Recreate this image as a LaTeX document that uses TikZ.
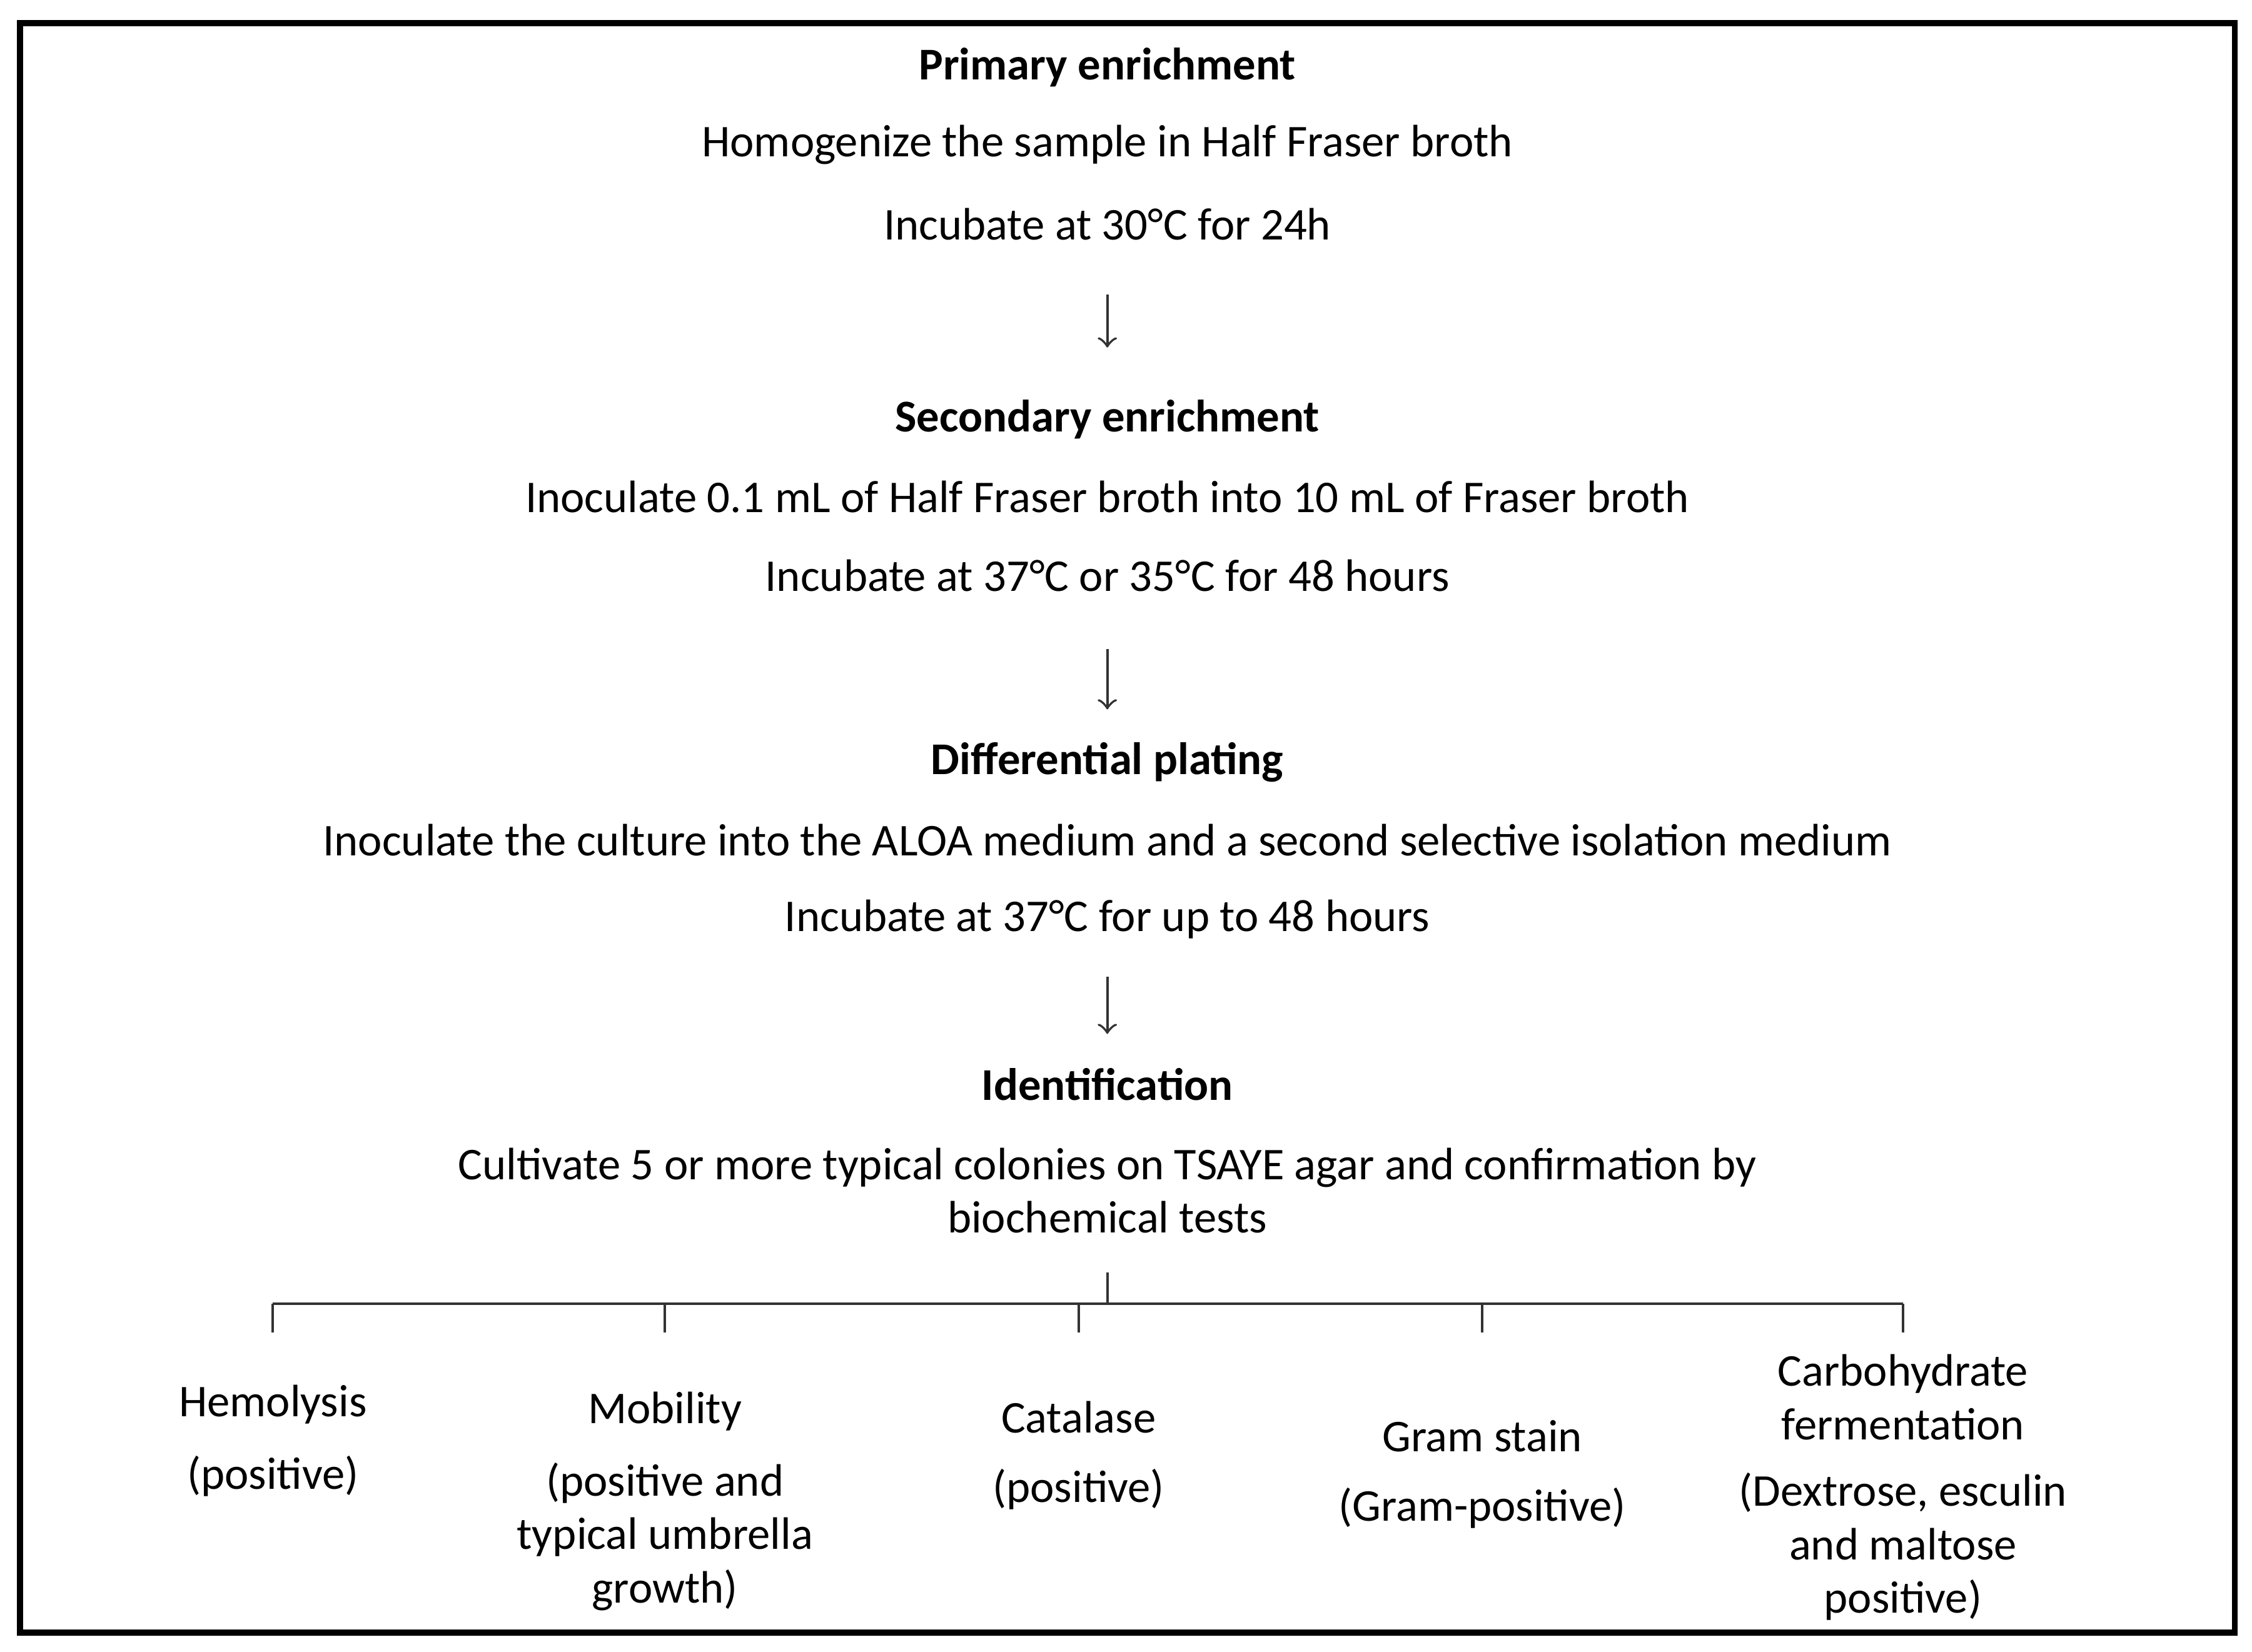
\documentclass[tikz,border=0pt]{standalone}
\usepackage{fontspec}
\setmainfont{Carlito}
\begin{document}
\begin{tikzpicture}[x=0.01cm,y=-0.01cm,
  txt/.style={inner sep=0pt,align=center,font=\fontsize{9}{10.6}\selectfont},
  hd/.style={txt,font=\fontsize{9}{10.6}\selectfont\bfseries},
  ln/.style={line width=0.5pt,black!80},
  arr/.style={ln,-to}]
\useasboundingbox (0,0) rectangle (1568,1150);
\draw[line width=1.2pt] (14,16) rectangle (1556,1137);
\node[hd] (h1) at (771,47) {Primary enrichment};
\node[txt] (t1a) at (771,101) {Homogenize the sample in Half Fraser broth};
\node[txt] (t1b) at (771,156) {Incubate at 30°C for 24h};
\node[hd] (h2) at (771,292) {Secondary enrichment};
\node[txt] (t2a) at (771,346) {Inoculate 0.1 mL of Half Fraser broth into 10 mL of Fraser broth};
\node[txt] (t2b) at (771,401) {Incubate at 37°C or 35°C for 48 hours};
\node[hd] (h3) at (771,531) {Differential plating};
\node[txt] (t3a) at (771,585) {Inoculate the culture into the ALOA medium and a second selective isolation medium};
\node[txt] (t3b) at (771,640) {Incubate at 37°C for up to 48 hours};
\node[hd] (h4) at (771,755) {Identification};
\node[txt] (t4) at (771,829) {Cultivate 5 or more typical colonies on TSAYE agar and confirmation by\\biochemical tests};
\coordinate (a1s) at (771,205); \coordinate (a1e) at (771,242);
\coordinate (a2s) at (771,452); \coordinate (a2e) at (771,494);
\coordinate (a3s) at (771,680); \coordinate (a3e) at (771,720);
\draw[arr] (a1s) -- (a1e);
\draw[arr] (a2s) -- (a2e);
\draw[arr] (a3s) -- (a3e);
\coordinate (tt) at (771,886); \coordinate (tb) at (771,908);
\coordinate (l) at (190,908); \coordinate (r) at (1325,908);
\draw[ln] (tt) -- (tb); \draw[ln] (l) -- (r);
\foreach \x in {190,463,751,1032,1325} \draw[ln] (\x,908) -- (\x,928);
\node[txt] (b1) at (190,978) {Hemolysis};
\node[txt] (b1p) at (190,1028) {(positive)};
\node[txt] (b2) at (463,983) {Mobility};
\node[txt] (b2p) at (463,1070) {(positive and\\typical umbrella\\growth)};
\node[txt] (b3) at (751,987) {Catalase};
\node[txt] (b3p) at (751,1037) {(positive)};
\node[txt] (b4) at (1032,1000) {Gram stain};
\node[txt] (b4p) at (1032,1050) {(Gram-positive)};
\node[txt] (b5) at (1325,973) {Carbohydrate\\fermentation};
\node[txt] (b5p) at (1325,1077) {(Dextrose, esculin\\and maltose\\positive)};
\end{tikzpicture}
\end{document}
